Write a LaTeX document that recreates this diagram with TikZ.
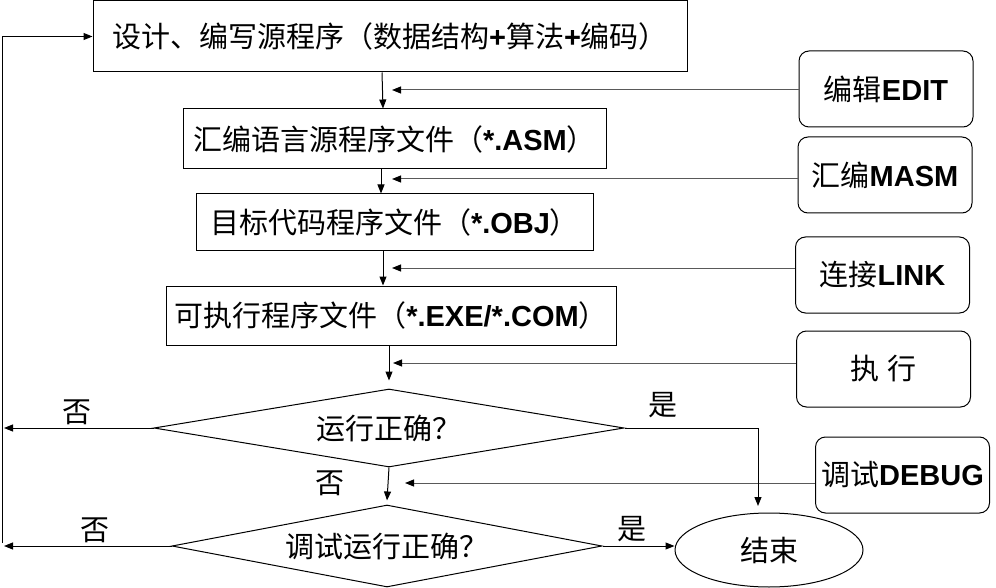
\documentclass[tikz,border=0pt]{standalone}
\usepackage{fontspec}
\setmainfont{Noto Sans CJK SC}
\newfontfamily\enfont{Liberation Sans}
\newcommand\en[1]{{\enfont\bfseries #1}}
\usetikzlibrary{arrows.meta,shapes.geometric}

\begin{document}
\begin{tikzpicture}[x=1pt, y=-1pt,
		every node/.style={font=\fontsize{29}{34}\selectfont, inner sep=0pt},
		box/.style={draw, rectangle, line width=1pt},
		tool/.style={draw, rounded corners=10pt, minimum width=174pt, minimum height=76pt, line width=1pt},
		test/.style={draw, diamond, aspect=6, line width=1pt},
		stop/.style={draw, ellipse, minimum width=188pt, minimum height=74pt, line width=1pt},
		arr/.style={-{Triangle[length=9pt,width=7pt]}, line width=1pt},
		feed/.style={-{Triangle[length=9pt,width=7pt,black]}, line width=1pt, draw=black!65}]
			%%%%% START %%%%%
			\useasboundingbox (0,0) rectangle (996,588);
			
			\node[box, minimum width=594pt, minimum height=71pt] (src) at (390,36.5) {设计、编写源程序（数据结构\en{+}算法\en{+}编码）};
			\node[box, minimum width=423pt, minimum height=60pt] (asm) at (394.5,139) {汇编语言源程序文件（\en{*.ASM}）};
			\node[box, minimum width=397pt, minimum height=57pt] (obj) at (394.5,222.5) {目标代码程序文件（\en{*.OBJ}）};
			\node[box, minimum width=450pt, minimum height=59pt] (exe) at (391,315.5) {可执行程序文件（\en{*.EXE/*.COM}）};
			
			\node[test, minimum width=470pt, minimum height=78pt] (run) at (389,428) {运行正确？};
			\node[test, minimum width=430pt, minimum height=82pt] (dbgrun) at (387,546) {调试运行正确？};
			\node[stop] (end) at (769,550) {结束};
			
			\node[tool] (edit) at (886,89) {编辑\en{EDIT}};
			\node[tool] (masm) at (885,175) {汇编\en{MASM}};
			\node[tool] (link) at (882.5,275) {连接\en{LINK}};
			\node[tool] (exec) at (883.5,369) {执\hspace{0.3em}行};
			\node[tool] (debug) at (902.5,475) {调试\en{DEBUG}};
			
			\node (no1) at (77,412) {否};
			\node (no2) at (330,483) {否};
			\node (no3) at (95,530) {否};
			\node (yes1) at (663,405) {是};
			\node (yes2) at (632,529) {是};
			
			\coordinate (tedit) at (392,90);
			\coordinate (tmasm) at (392,179);
			\coordinate (tlink) at (392,268);
			\coordinate (texec) at (393,363);
			\coordinate (tdebug) at (405,483);
			\coordinate (nrun) at (4,428);
			\coordinate (ndbg) at (4,546);
			\coordinate (back) at (2,543);
			\coordinate (yes) at (758,428);
			\coordinate (yesend) at (758,506);
			
			\draw[arr] ([xshift=-8pt]src.south) -- ([xshift=-11.5pt]asm.north);
			\draw[arr] ([xshift=-13.5pt]asm.south) -- ([xshift=-13.5pt]obj.north);
			\draw[arr] ([xshift=-11.5pt]obj.south) -- ([xshift=-8pt]exe.north);
			\draw[arr] ([xshift=-2pt]exe.south) -- ([yshift=8pt]run.north);
			\draw[arr] (run.south) -- ([yshift=4pt]dbgrun.north);
			
			\draw[feed] (tedit -| edit.west) -- (tedit);
			\draw[feed] (tmasm -| masm.west) -- (tmasm);
			\draw[feed] (tlink -| link.west) -- (tlink);
			\draw[feed] (texec -| exec.west) -- (texec);
			\draw[feed] (tdebug -| debug.west) -- (tdebug);
			
			\draw[arr] (run.west) -- (nrun);
			\draw[arr] (dbgrun.west) -- (ndbg);
			\draw[arr] (back) -- (back |- src.west) -- (src.west);
			
			\draw[arr] (run.east) -- (yes) -- (yesend);
			\draw[arr] (dbgrun.east) -- (dbgrun.east -| end.west);
			%%%%% END %%%%%
\end{tikzpicture}
\end{document}
